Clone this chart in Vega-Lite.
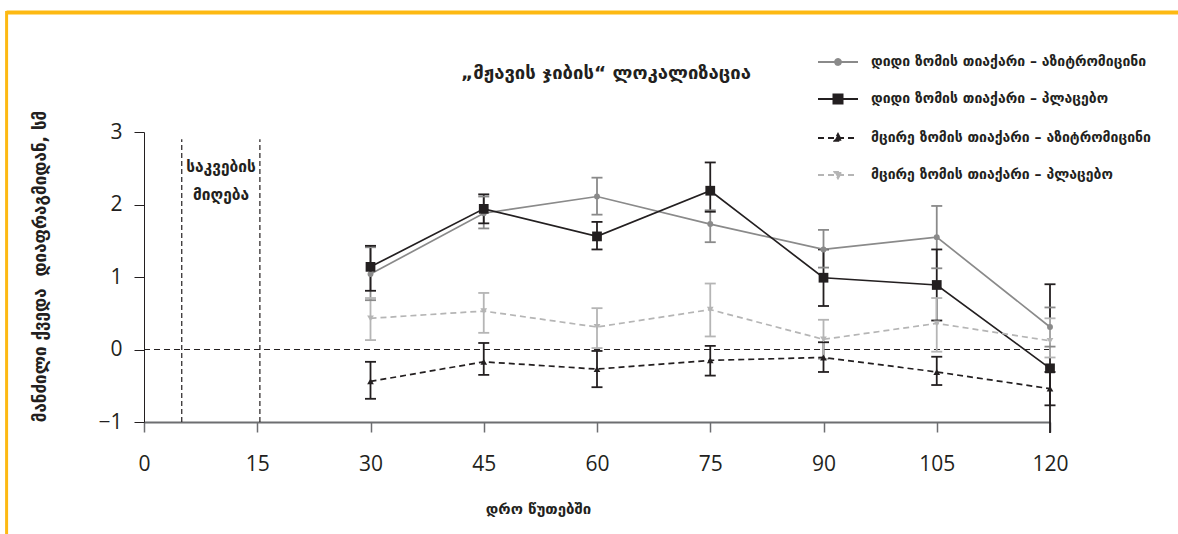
{
  "$schema": "https://vega.github.io/schema/vega-lite/v6.json",
  "width": 906,
  "height": 290,
  "autosize": {"type": "none"},
  "padding": {"left": 144, "top": 132, "right": 128, "bottom": 112},
  "background": "white",
  "config": {"view": {"stroke": null}, "font": "DejaVu Sans"},
  "title": {
    "text": "„მჟავის ჯიბის“ ლოკალიზაცია",
    "font": "DejaVu Sans",
    "fontWeight": "bold",
    "fontSize": 18.5,
    "color": "#231f20",
    "anchor": "middle",
    "frame": "group",
    "dx": 9,
    "baseline": "middle",
    "offset": -82
  },
  "datasets": {
    "hernia": [
      {"t": 30, "s": "დიდი ზომის თიაქარი – აზიტრომიცინი", "m": 1.04, "lo": 0.68, "hi": 1.41},
      {"t": 45, "s": "დიდი ზომის თიაქარი – აზიტრომიცინი", "m": 1.88, "lo": 1.67, "hi": 2.11},
      {"t": 60, "s": "დიდი ზომის თიაქარი – აზიტრომიცინი", "m": 2.11, "lo": 1.86, "hi": 2.37},
      {"t": 75, "s": "დიდი ზომის თიაქარი – აზიტრომიცინი", "m": 1.73, "lo": 1.48, "hi": 1.92},
      {"t": 90, "s": "დიდი ზომის თიაქარი – აზიტრომიცინი", "m": 1.38, "lo": 1.13, "hi": 1.65},
      {"t": 105, "s": "დიდი ზომის თიაქარი – აზიტრომიცინი", "m": 1.55, "lo": 1.12, "hi": 1.98},
      {"t": 120, "s": "დიდი ზომის თიაქარი – აზიტრომიცინი", "m": 0.31, "lo": 0.04, "hi": 0.58},
      {"t": 30, "s": "დიდი ზომის თიაქარი – პლაცებო", "m": 1.14, "lo": 0.81, "hi": 1.43},
      {"t": 45, "s": "დიდი ზომის თიაქარი – პლაცებო", "m": 1.94, "lo": 1.74, "hi": 2.14},
      {"t": 60, "s": "დიდი ზომის თიაქარი – პლაცებო", "m": 1.56, "lo": 1.38, "hi": 1.76},
      {"t": 75, "s": "დიდი ზომის თიაქარი – პლაცებო", "m": 2.19, "lo": 1.90, "hi": 2.58},
      {"t": 90, "s": "დიდი ზომის თიაქარი – პლაცებო", "m": 0.99, "lo": 0.60, "hi": 1.38},
      {"t": 105, "s": "დიდი ზომის თიაქარი – პლაცებო", "m": 0.89, "lo": 0.40, "hi": 1.38},
      {"t": 120, "s": "დიდი ზომის თიაქარი – პლაცებო", "m": -0.26, "lo": -1.15, "hi": 0.90},
      {"t": 30, "s": "მცირე ზომის თიაქარი – აზიტრომიცინი", "m": -0.44, "lo": -0.68, "hi": -0.17},
      {"t": 45, "s": "მცირე ზომის თიაქარი – აზიტრომიცინი", "m": -0.17, "lo": -0.35, "hi": 0.09},
      {"t": 60, "s": "მცირე ზომის თიაქარი – აზიტრომიცინი", "m": -0.27, "lo": -0.52, "hi": -0.02},
      {"t": 75, "s": "მცირე ზომის თიაქარი – აზიტრომიცინი", "m": -0.15, "lo": -0.36, "hi": 0.05},
      {"t": 90, "s": "მცირე ზომის თიაქარი – აზიტრომიცინი", "m": -0.11, "lo": -0.31, "hi": 0.10},
      {"t": 105, "s": "მცირე ზომის თიაქარი – აზიტრომიცინი", "m": -0.31, "lo": -0.49, "hi": -0.10},
      {"t": 120, "s": "მცირე ზომის თიაქარი – აზიტრომიცინი", "m": -0.54, "lo": -0.77, "hi": -0.31},
      {"t": 30, "s": "მცირე ზომის თიაქარი – პლაცებო", "m": 0.43, "lo": 0.13, "hi": 0.71},
      {"t": 45, "s": "მცირე ზომის თიაქარი – პლაცებო", "m": 0.53, "lo": 0.23, "hi": 0.78},
      {"t": 60, "s": "მცირე ზომის თიაქარი – პლაცებო", "m": 0.31, "lo": 0.02, "hi": 0.57},
      {"t": 75, "s": "მცირე ზომის თიაქარი – პლაცებო", "m": 0.55, "lo": 0.18, "hi": 0.91},
      {"t": 90, "s": "მცირე ზომის თიაქარი – პლაცებო", "m": 0.14, "lo": -0.13, "hi": 0.41},
      {"t": 105, "s": "მცირე ზომის თიაქარი – პლაცებო", "m": 0.36, "lo": -0.03, "hi": 0.71},
      {"t": 120, "s": "მცირე ზომის თიაქარი – პლაცებო", "m": 0.12, "lo": -0.11, "hi": 0.43}
    ],
    "feed": [{"t": 5}, {"t": 15.35}],
    "note": [{"label": ["საკვების", "მიღება"]}]
  },
  "data": {"name": "hernia"},
  "layer": [
    {
      "data": {"name": "note"},
      "mark": {"type": "rule", "stroke": "#fdb913", "strokeWidth": 4},
      "encoding": {
        "x": {"datum": -18.2, "type": "quantitative", "scale": {"domain": [0, 120], "nice": false, "zero": false}},
        "x2": {"datum": 140},
        "y": {"datum": 4.648, "type": "quantitative", "scale": {"domain": [-1, 3], "nice": false, "zero": false}}
      }
    },
    {
      "data": {"name": "note"},
      "mark": {"type": "rule", "stroke": "#fdb913", "strokeWidth": 3},
      "encoding": {
        "x": {"datum": -18.2, "type": "quantitative"},
        "y": {"datum": 4.67, "type": "quantitative"},
        "y2": {"datum": -2.9}
      }
    },
    {
      "data": {"name": "note"},
      "mark": {"type": "rule", "stroke": "#231f20", "strokeWidth": 1.2, "strokeDash": [6, 4]},
      "encoding": {"y": {"datum": 0, "type": "quantitative"}}
    },
    {
      "data": {"name": "feed"},
      "mark": {"type": "rule", "stroke": "#231f20", "strokeWidth": 1.2, "strokeDash": [5, 3]},
      "encoding": {
        "x": {"field": "t", "type": "quantitative"},
        "y": {"datum": -1, "type": "quantitative"},
        "y2": {"datum": 2.9}
      }
    },
    {
      "data": {"name": "note"},
      "mark": {"type": "text", "font": "DejaVu Sans", "fontWeight": "bold", "fontSize": 15.5, "lineHeight": 28, "fill": "#231f20", "align": "center", "baseline": "middle"},
      "encoding": {
        "x": {"datum": 10.2, "type": "quantitative"},
        "y": {"datum": 2.52, "type": "quantitative"},
        "text": {"field": "label"}
      }
    },
    {
      "mark": {"type": "rule", "strokeWidth": 1.8},
      "encoding": {
        "x": {"field": "t", "type": "quantitative",
          "axis": {"values": [0, 15, 30, 45, 60, 75, 90, 105, 120], "grid": false, "tickSize": 10, "tickWidth": 1.5, "tickColor": "#6d6e71", "domainColor": "#6d6e71", "domainWidth": 2, "labelFont": "Open Sans", "labelFontSize": 21, "labelColor": "#231f20", "labelPadding": 21, "labelFlush": false,
            "title": "დრო წუთებში", "titleFont": "DejaVu Sans", "titleFontWeight": "bold", "titleFontSize": 15, "titleColor": "#231f20", "titleX": 394, "titleY": 86, "titleBaseline": "middle", "titleAnchor": null, "titleAlign": "center"}},
        "y": {"field": "lo", "type": "quantitative",
          "axis": {"values": [-1, 0, 1, 2, 3], "format": "d", "grid": false, "tickSize": 10, "tickWidth": 1, "tickColor": "#231f20", "domainColor": "#231f20", "domainWidth": 1, "labelFont": "Open Sans", "labelFontSize": 21, "labelColor": "#231f20", "labelPadding": 12, "labelFlush": false,
            "title": "მანძილი ქვედა\u00a0 დიაფრაგმიდან, სმ", "titleFont": "DejaVu Sans", "titleFontWeight": "bold", "titleFontSize": 17, "titleColor": "#231f20", "titleX": -104, "titleY": 134, "titleAngle": 270, "titleBaseline": "middle", "titleAlign": "center", "titleAnchor": null}},
        "y2": {"field": "hi"},
        "color": {"field": "s", "type": "nominal", "legend": null,
          "scale": {"range": ["#8a8a8a", "#231f20", "#231f20", "#b5b5b5"]}}
      }
    },
    {
      "mark": {"type": "tick", "orient": "horizontal", "size": 11, "thickness": 1.8, "opacity": 1},
      "encoding": {
        "x": {"field": "t", "type": "quantitative"},
        "y": {"field": "hi", "type": "quantitative"},
        "color": {"field": "s", "type": "nominal", "legend": null}
      }
    },
    {
      "transform": [{"filter": "datum.lo >= -1"}],
      "mark": {"type": "tick", "orient": "horizontal", "size": 11, "thickness": 1.8, "opacity": 1},
      "encoding": {
        "x": {"field": "t", "type": "quantitative"},
        "y": {"field": "lo", "type": "quantitative"},
        "color": {"field": "s", "type": "nominal", "legend": null}
      }
    },
    {
      "transform": [{"filter": "indexof(datum.s, 'დიდი') === 0"}],
      "mark": {"type": "line", "strokeWidth": 1.7},
      "encoding": {
        "x": {"field": "t", "type": "quantitative"},
        "y": {"field": "m", "type": "quantitative"},
        "color": {"field": "s", "type": "nominal", "legend": null}
      }
    },
    {
      "transform": [{"filter": "indexof(datum.s, 'მცირე') === 0"}],
      "mark": {"type": "line", "strokeWidth": 1.7, "strokeDash": [6, 4]},
      "encoding": {
        "x": {"field": "t", "type": "quantitative"},
        "y": {"field": "m", "type": "quantitative"},
        "color": {"field": "s", "type": "nominal", "legend": null}
      }
    },
    {
      "transform": [{"filter": {"field": "s", "equal": "დიდი ზომის თიაქარი – აზიტრომიცინი"}}],
      "mark": {"type": "point", "shape": "circle", "filled": true, "size": 35, "opacity": 1, "color": "#8a8a8a"},
      "encoding": {"x": {"field": "t", "type": "quantitative"}, "y": {"field": "m", "type": "quantitative"}}
    },
    {
      "transform": [{"filter": {"field": "s", "equal": "დიდი ზომის თიაქარი – პლაცებო"}}],
      "mark": {"type": "point", "shape": "square", "filled": true, "size": 95, "opacity": 1, "color": "#231f20"},
      "encoding": {"x": {"field": "t", "type": "quantitative"}, "y": {"field": "m", "type": "quantitative"}}
    },
    {
      "transform": [{"filter": {"field": "s", "equal": "მცირე ზომის თიაქარი – აზიტრომიცინი"}}],
      "mark": {"type": "point", "shape": "triangle-up", "filled": true, "size": 45, "opacity": 1, "color": "#231f20"},
      "encoding": {"x": {"field": "t", "type": "quantitative"}, "y": {"field": "m", "type": "quantitative"}}
    },
    {
      "transform": [{"filter": {"field": "s", "equal": "მცირე ზომის თიაქარი – პლაცებო"}}],
      "mark": {"type": "point", "shape": "triangle-down", "filled": true, "size": 45, "opacity": 1, "color": "#b5b5b5"},
      "encoding": {"x": {"field": "t", "type": "quantitative"}, "y": {"field": "m", "type": "quantitative"}}
    },
    {
      "transform": [{"filter": "false"}],
      "mark": {"type": "point", "filled": true, "size": 1600, "strokeWidth": 1.8, "opacity": 1},
      "encoding": {
        "fill": {"field": "s", "type": "nominal",
          "scale": {"domain": ["დიდი ზომის თიაქარი – აზიტრომიცინი", "დიდი ზომის თიაქარი – პლაცებო", "მცირე ზომის თიაქარი – აზიტრომიცინი", "მცირე ზომის თიაქარი – პლაცებო"], "range": ["#8a8a8a", "#231f20", "#231f20", "#b5b5b5"]},
          "legend": {"title": null, "orient": "none", "legendX": 673, "legendY": -91, "symbolSize": 1600, "symbolStrokeWidth": 1.8, "labelFont": "DejaVu Sans", "labelFontWeight": "bold", "labelFontSize": 14, "labelColor": "#231f20", "labelOffset": 12, "labelLimit": 400, "rowPadding": 9, "padding": 0}},
        "stroke": {"field": "s", "type": "nominal",
          "scale": {"domain": ["დიდი ზომის თიაქარი – აზიტრომიცინი", "დიდი ზომის თიაქარი – პლაცებო", "მცირე ზომის თიაქარი – აზიტრომიცინი", "მცირე ზომის თიაქარი – პლაცებო"], "range": ["#8a8a8a", "#231f20", "#231f20", "#b5b5b5"]},
          "legend": {"title": null, "orient": "none", "legendX": 673, "legendY": -91, "symbolSize": 1600, "symbolStrokeWidth": 1.8, "labelFont": "DejaVu Sans", "labelFontWeight": "bold", "labelFontSize": 14, "labelColor": "#231f20", "labelOffset": 12, "labelLimit": 400, "rowPadding": 9, "padding": 0}},
        "shape": {"field": "s", "type": "nominal",
          "scale": {"domain": ["დიდი ზომის თიაქარი – აზიტრომიცინი", "დიდი ზომის თიაქარი – პლაცებო", "მცირე ზომის თიაქარი – აზიტრომიცინი", "მცირე ზომის თიაქარი – პლაცებო"],
            "range": ["M-1,0H1M0.15,0A0.15,0.15,0,1,1,-0.15,0A0.15,0.15,0,1,1,0.15,0Z", "M-1,0H1M-0.23,-0.23H0.23V0.23H-0.23Z", "M-1,0H1M0,-0.2L0.18,0.14H-0.18Z", "M-1,0H1M0,0.17L0.18,-0.15H-0.18Z"]},
          "legend": {"title": null, "orient": "none", "legendX": 673, "legendY": -91, "symbolSize": 1600, "symbolStrokeWidth": 1.8, "labelFont": "DejaVu Sans", "labelFontWeight": "bold", "labelFontSize": 14, "labelColor": "#231f20", "labelOffset": 12, "labelLimit": 400, "rowPadding": 9, "padding": 0}},
        "strokeDash": {"field": "s", "type": "nominal",
          "scale": {"domain": ["დიდი ზომის თიაქარი – აზიტრომიცინი", "დიდი ზომის თიაქარი – პლაცებო", "მცირე ზომის თიაქარი – აზიტრომიცინი", "მცირე ზომის თიაქარი – პლაცებო"], "range": [[1, 0], [1, 0], [6, 4], [6, 4]]},
          "legend": {"title": null, "orient": "none", "legendX": 673, "legendY": -91, "symbolSize": 1600, "symbolStrokeWidth": 1.8, "labelFont": "DejaVu Sans", "labelFontWeight": "bold", "labelFontSize": 14, "labelColor": "#231f20", "labelOffset": 12, "labelLimit": 400, "rowPadding": 9, "padding": 0}}
      }
    }
  ]
}
